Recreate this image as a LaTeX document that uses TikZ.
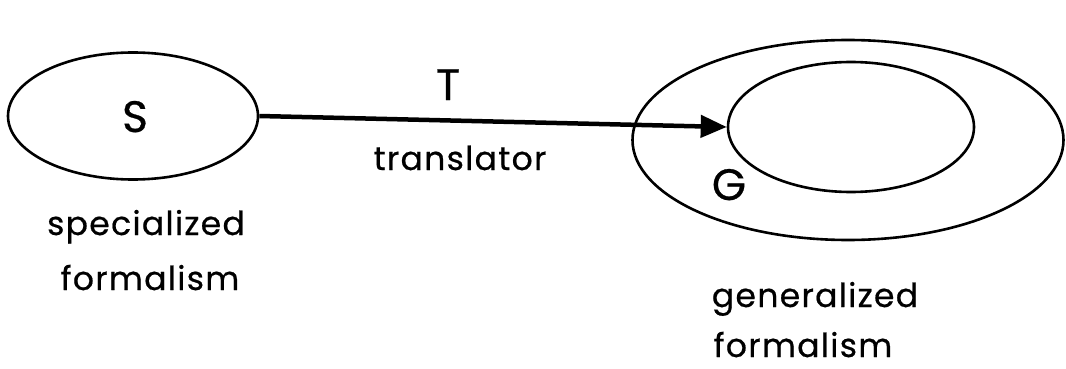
\documentclass[tikz,border=0pt]{standalone}
\usepackage{fontspec}
\setmainfont{Poppins}[LetterSpace=4, FakeBold=0.6]
\usetikzlibrary{shapes.geometric,arrows.meta}
\tikzset{
  oval/.style={draw, ellipse, line width=2.6pt, inner sep=0pt},
  lbl/.style={font=\fontsize{33}{36}\selectfont, inner sep=0pt, anchor=base},
  letter/.style={font=\fontsize{44}{48}\selectfont, inner sep=0pt, anchor=base},
}
\begin{document}
\begin{tikzpicture}[x=1pt,y=-1pt]
\useasboundingbox (0,0) rectangle (1066,369);
\node[oval, minimum width=250pt, minimum height=127pt] (S) at (133,116) {};
\node[letter] (Slab) at (135,132) {S};
\node[oval, minimum width=431pt, minimum height=200pt] (outer) at (848,140) {};
\node[oval, minimum width=246pt, minimum height=130pt] (inner) at (851,127) {};
\node[letter] (G) at (729,200) {G};
\node[letter] (T) at (448,100) {T};
\node[lbl] (tr) at (460,170) {translator};
\node[lbl] (spec) at (146,235) {specialized};
\node[lbl] (sform) at (150,290) {formalism};
\node[lbl] (gen) at (815,307) {generalized};
\node[lbl] (gform) at (803,357) {formalism};
\draw[line width=4.5pt, -{Triangle[length=26pt,width=22pt]}] (S.east) -- (inner.west);
\end{tikzpicture}
\end{document}
